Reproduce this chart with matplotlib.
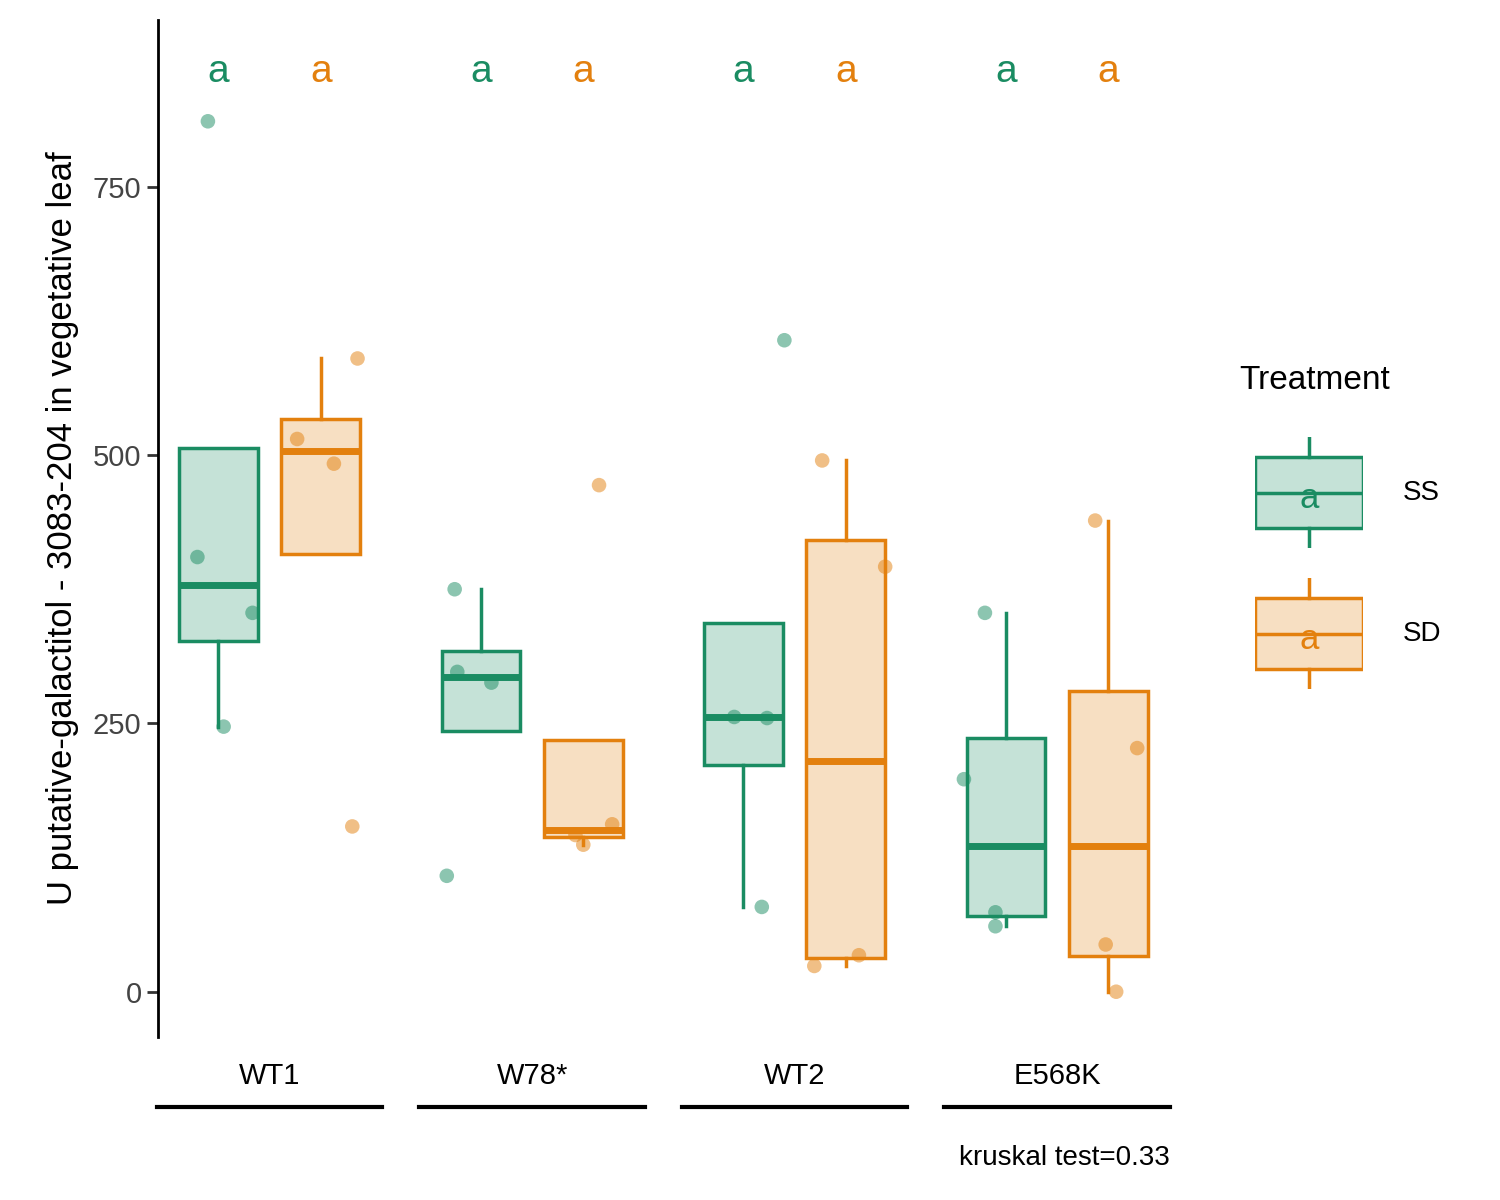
import numpy as np
import matplotlib
matplotlib.use("Agg")
import matplotlib.pyplot as plt
from matplotlib.patches import Rectangle

plt.rcParams["font.family"] = ["Liberation Sans", "DejaVu Sans"]
GREEN = "#1A8C62"; ORANGE = "#E3800E"
groups = ["WT1", "W78*", "WT2", "E568K"]
treat = ["SS", "SD"]
ss = [[811, 405, 353, 247], [375, 298, 288, 108], [607, 256, 255, 79], [353, 198, 74, 61]]
sd = [[590, 515, 492, 154], [472, 156, 146, 137], [495, 396, 34, 24], [439, 227, 44, 0]]
# horizontal jitter of the points (in group units, relative to box center)
jit_ss = [[-0.04, -0.08, 0.13, 0.02], [-0.10, -0.09, 0.04, -0.13], [0.156, -0.035, 0.09, 0.07], [-0.08, -0.16, -0.04, -0.04]]
jit_sd = [[0.14, -0.09, 0.05, 0.12], [0.06, 0.11, -0.03, 0.0], [-0.09, 0.15, 0.05, -0.12], [-0.05, 0.11, -0.01, 0.03]]
letters = ["a"] * 8
kruskal = "kruskal test=0.33"

fig = plt.figure(figsize=(15, 12), dpi=100)
ax = fig.add_axes([0.105, 0.136, 0.675, 0.847])
x = np.arange(1, 5)
off, w = 0.195, 0.30
for vals, jit, col, d in [(ss, jit_ss, GREEN, -off), (sd, jit_sd, ORANGE, off)]:
    bp = ax.boxplot(vals, positions=x + d, widths=w, patch_artist=True, showfliers=False,
                    showcaps=False, whis=1.5)
    for b in bp["boxes"]:
        b.set(facecolor=matplotlib.colors.to_rgba(col, 0.25), edgecolor=col, linewidth=2.5)
    for wk in bp["whiskers"]:
        wk.set(color=col, linewidth=2.5)
    for m in bp["medians"]:
        m.set(color=col, linewidth=5)
    for i, (v, j) in enumerate(zip(vals, jit)):
        ax.scatter(x[i] + d + np.array(j), v, s=110, color=col, alpha=0.5, edgecolor="none", zorder=3)
for i in range(4):
    ax.text(x[i] - off, 857, letters[2 * i], color=GREEN, fontsize=28, ha="center", va="center")
    ax.text(x[i] + off, 857, letters[2 * i + 1], color=ORANGE, fontsize=28, ha="center", va="center")

ax.set_xlim(0.573, 4.43); ax.set_ylim(-42, 905)
ax.set_yticks([0, 250, 500, 750])
ax.set_xticks(x); ax.set_xticklabels(groups)
ax.tick_params(axis="y", labelsize=21, length=8, width=2, colors="#333333", labelcolor="#444444")
ax.tick_params(axis="x", labelsize=21, length=0, pad=18, labelcolor="black")
ax.spines[["top", "right", "bottom"]].set_visible(False)
ax.spines["left"].set_linewidth(2)
ax.set_ylabel("U putative-galactitol - 3083-204 in vegetative leaf", fontsize=25, labelpad=10)
for i in range(4):
    ax.plot([x[i] - 0.43, x[i] + 0.43], [-0.069, -0.069], transform=ax.get_xaxis_transform(),
            color="black", lw=3, clip_on=False)
ax.text(1.0, -0.119, kruskal, transform=ax.transAxes, ha="right", va="center", fontsize=20)

fig.text(0.826, 0.683, "Treatment", fontsize=24, va="center")
for k, (col, lab, ytop) in enumerate([(GREEN, "SS", 437), (ORANGE, "SD", 578)]):
    lx = fig.add_axes([1255 / 1500, 1 - (ytop + 111) / 1200, 108 / 1500, 111 / 1200])
    lx.set_xlim(0, 1); lx.set_ylim(0, 1); lx.axis("off")
    lx.add_patch(Rectangle((0, 0.18), 1, 0.64, facecolor=matplotlib.colors.to_rgba(col, 0.25),
                           edgecolor=col, lw=2.5))
    lx.plot([0.5, 0.5], [0.82, 1], color=col, lw=2.5)
    lx.plot([0.5, 0.5], [0, 0.18], color=col, lw=2.5)
    lx.plot([0, 1], [0.5, 0.5], color=col, lw=2.5)
    lx.text(0.5, 0.45, "a", color=col, fontsize=25, ha="center", va="center")
    fig.text(1403 / 1500, 1 - (ytop + 56) / 1200, lab, fontsize=20, va="center")

fig.savefig("out.png", dpi=100, facecolor="white")
